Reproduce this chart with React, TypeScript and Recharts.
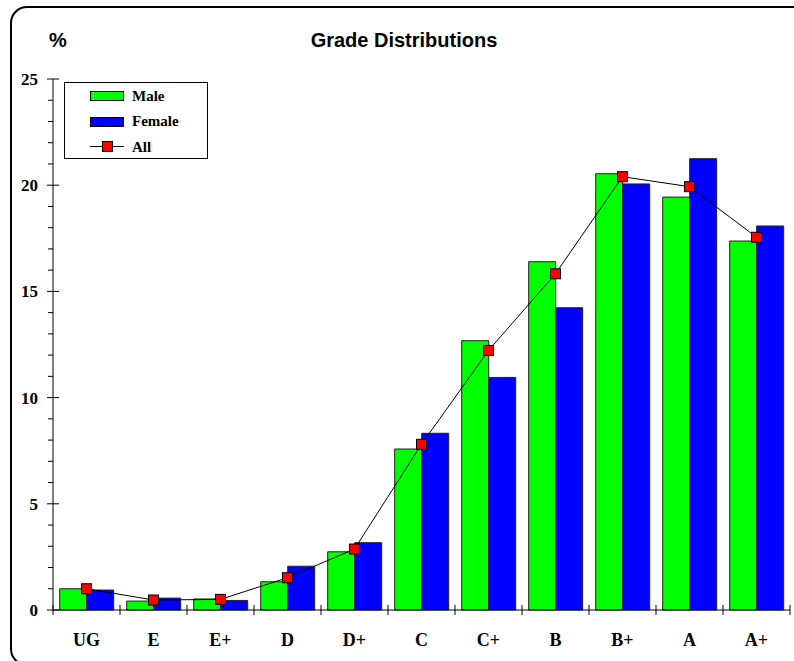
import {
  ComposedChart,
  Bar,
  Line,
  XAxis,
  YAxis,
  Legend,
} from "recharts";

const grades = ["UG", "E", "E+", "D", "D+", "C", "C+", "B", "B+", "A", "A+"];
const male = [1.0, 0.42, 0.52, 1.33, 2.74, 7.58, 12.68, 16.4, 20.54, 19.44, 17.37];
const female = [0.94, 0.56, 0.45, 2.06, 3.17, 8.32, 10.95, 14.23, 20.06, 21.25, 18.08];
const all = [1.0, 0.47, 0.5, 1.52, 2.87, 7.8, 12.22, 15.83, 20.4, 19.93, 17.55];
const yTicks = Array.from({ length: 26 }, (_, i) => i);

const data = grades.map((g, i) => ({
  grade: g,
  male: male[i],
  female: female[i],
  all: all[i],
}));

const W = 794;
const H = 661;
const PLOT_LEFT = 53;
const PLOT_RIGHT = 790;
const BAND = (PLOT_RIGHT - PLOT_LEFT) / grades.length;
const serif = "'Liberation Serif', 'Times New Roman', serif";
const sans = "'Liberation Sans', Arial, sans-serif";

function YTick(props: any) {
  const { x, y, payload } = props;
  const major = payload.value % 5 === 0;
  return (
    <g>
      {major ? (
        <line x1={x - 6} x2={x + 6} y1={y} y2={y} stroke="#000" />
      ) : (
        <line x1={x - 5} x2={x} y1={y} y2={y} stroke="#000" />
      )}
      {major && (
        <text
          x={x - 15}
          y={y}
          dy="0.35em"
          textAnchor="end"
          fontFamily={serif}
          fontWeight="bold"
          fontSize={17}
          fill="#000"
        >
          {payload.value}
        </text>
      )}
    </g>
  );
}

function XTick(props: any) {
  const { x, y, payload, index } = props;
  const left = x - BAND / 2;
  return (
    <g>
      <line x1={left} x2={left} y1={y - 5} y2={y + 5} stroke="#000" />
      {index === grades.length - 1 && (
        <line x1={x + BAND / 2} x2={x + BAND / 2} y1={y - 5} y2={y + 5} stroke="#000" />
      )}
      <text
        x={x}
        y={y + 36}
        textAnchor="middle"
        fontFamily={serif}
        fontWeight="bold"
        fontSize={18}
        fill="#000"
      >
        {payload.value}
      </text>
    </g>
  );
}

function SquareDot(props: any) {
  const { cx, cy } = props;
  if (cx == null || cy == null) return null;
  return (
    <rect x={cx - 5} y={cy - 5} width={10} height={10} fill="#ff0000" stroke="#000" strokeWidth={1} />
  );
}

function LegendBox() {
  return (
    <svg width={144} height={77} style={{ display: "block" }}>
      <rect x={0.5} y={0.5} width={143} height={76} fill="#fff" stroke="#000" />
      <rect x={26.5} y={9.5} width={33} height={9} fill="#00ff00" stroke="#000" />
      <text x={68} y={19} fontFamily={serif} fontWeight="bold" fontSize={15} fill="#000">
        Male
      </text>
      <rect x={26.5} y={35.5} width={33} height={9} fill="#0000ff" stroke="#000" />
      <text x={68} y={44} fontFamily={serif} fontWeight="bold" fontSize={15} fill="#000">
        Female
      </text>
      <line x1={26} x2={60} y1={64.5} y2={64.5} stroke="#000" />
      <rect x={38.5} y={59.5} width={10} height={10} fill="#ff0000" stroke="#000" />
      <text x={68} y={70} fontFamily={serif} fontWeight="bold" fontSize={15} fill="#000">
        All
      </text>
    </svg>
  );
}

export default function App() {
  return (
    <div style={{ position: "absolute", left: 0, top: 0, width: W, height: H, overflow: "hidden", background: "#fff" }}>
      <svg width={W} height={H} style={{ position: "absolute", left: 0, top: 0 }}>
        <rect x={11} y={7} width={800} height={658} rx={16} ry={16} fill="none" stroke="#000" strokeWidth={2} />
        <text x={49} y={47} fontFamily={sans} fontWeight="bold" fontSize={20} fill="#000">
          %
        </text>
        <text x={404} y={47} textAnchor="middle" fontFamily={sans} fontWeight="bold" fontSize={20} fill="#000">
          Grade Distributions
        </text>
      </svg>
      <div style={{ position: "absolute", left: 0, top: 0 }}>
        <ComposedChart
          width={W}
          height={H}
          data={data}
          margin={{ top: 79, right: W - PLOT_RIGHT, left: 0, bottom: 0 }}
          barCategoryGap="10%"
          barGap={0}
        >
          <XAxis
            dataKey="grade"
            height={51}
            axisLine={{ stroke: "#000" }}
            tickLine={false}
            tickSize={0}
            tickMargin={0}
            interval={0}
            tick={<XTick />}
          />
          <YAxis
            width={PLOT_LEFT}
            domain={[0, 25]}
            ticks={yTicks}
            interval={0}
            axisLine={{ stroke: "#000" }}
            tickLine={false}
            tickSize={0}
            tickMargin={0}
            tick={<YTick />}
          />
          <Legend
            layout="horizontal"
            verticalAlign="middle"
            align="center"
            content={() => <LegendBox />}
            wrapperStyle={{ left: 64, top: 82, width: 144, height: 77 }}
          />
          <Bar dataKey="male" name="Male" fill="#00ff00" stroke="#222" strokeWidth={1} isAnimationActive={false} />
          <Bar dataKey="female" name="Female" fill="#0000ff" stroke="#222" strokeWidth={1} isAnimationActive={false} />
          <Line
            dataKey="all"
            name="All"
            type="linear"
            stroke="#000"
            strokeWidth={1}
            dot={<SquareDot />}
            activeDot={false}
            isAnimationActive={false}
          />
        </ComposedChart>
      </div>
    </div>
  );
}
